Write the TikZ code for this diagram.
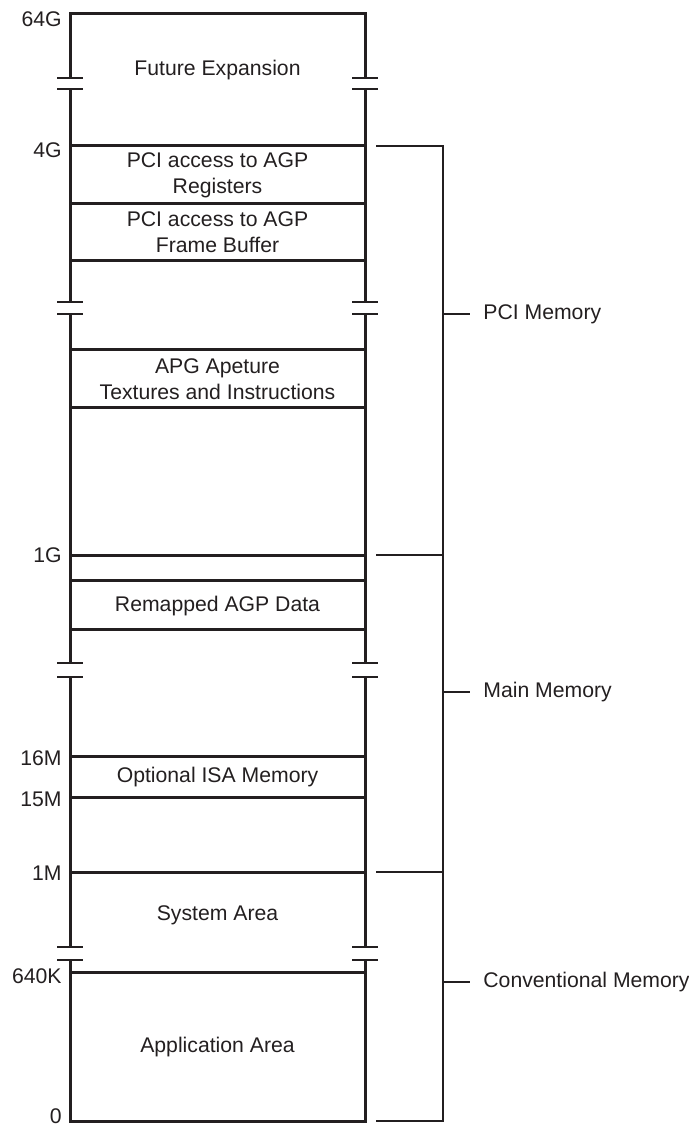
\documentclass[tikz,border=0pt]{standalone}
\usepackage{fontspec}
\setmainfont{Liberation Sans}
\definecolor{mapink}{RGB}{35,31,32}

\begin{document}
\begin{tikzpicture}[x=0.5pt,y=-0.5pt,
    wall/.style={line width=1.5pt,mapink},
    brk/.style={line width=0.9pt,mapink},
    brace/.style={line width=0.6pt,mapink},
    addr/.style={anchor=east,inner sep=0pt,text=mapink,font=\fontsize{10.6}{13}\selectfont},
    area/.style={align=center,inner sep=0pt,text=mapink,font=\fontsize{10.6}{13}\selectfont},
    grp/.style={anchor=west,inner sep=0pt,text=mapink,font=\fontsize{10.6}{13}\selectfont}]
  \useasboundingbox (0,0) rectangle (689,1127);
  % Outer walls of the memory map, broken at the gaps
  \foreach \x in {70,365} {
    \draw[wall] (\x,89) -- (\x,302);
    \draw[wall] (\x,314) -- (\x,663);
    \draw[wall] (\x,677) -- (\x,947);
  }
  \draw[wall] (70,78) -- (70,14) -- (365,14) -- (365,78);
  \draw[wall] (70,960) -- (70,1121) -- (365,1121) -- (365,960);
  % Break marks
  \foreach \x in {70,365}
    \foreach \y in {78,89,302,314,663,677,947,960}
      \draw[brk] (\x-13,\y) -- (\x+13,\y);
  % Region dividers
  \foreach \y in {146,204,261,350,408,555,580,629,756,797,872,972}
    \draw[wall] (70,\y) -- (365,\y);
  % Address labels
  \node[addr] (a64g) at (62,19) {64G};
  \node[addr] (a4g) at (62,150) {4G};
  \node[addr] (a1g) at (62,555) {1G};
  \node[addr] (a16m) at (62,758) {16M};
  \node[addr] (a15m) at (62,799) {15M};
  \node[addr] (a1m) at (62,873) {1M};
  \node[addr] (a640k) at (62,976) {640K};
  \node[addr] (a0) at (62,1116) {0};
  % Region texts
  \node[area] (future) at (217.5,70) {Future Expansion};
  \node[area] (agpreg) at (217.5,175) {PCI access to AGP\\Registers};
  \node[area] (agpfb) at (217.5,232) {PCI access to AGP\\Frame Buffer};
  \node[area] (aperture) at (217.5,379) {APG Apeture\\Textures and Instructions};
  \node[area] (remap) at (217.5,606) {Remapped AGP Data};
  \node[area] (isa) at (217.5,777) {Optional ISA Memory};
  \node[area] (sysarea) at (217.5,915) {System Area};
  \node[area] (apparea) at (217.5,1047) {Application Area};
  % Brackets on the right
  \draw[brace] (376,146) -- (443,146) -- (443,1121) -- (376,1121);
  \draw[brace] (443,555) -- (376,555);
  \draw[brace] (443,872) -- (376,872);
  \draw[brace] (443,314) -- (470,314);
  \draw[brace] (443,692) -- (470,692);
  \draw[brace] (443,982) -- (470,982);
  \node[grp] (pcimem) at (483,314) {PCI Memory};
  \node[grp] (mainmem) at (483,692) {Main Memory};
  \node[grp] (convmem) at (483,982) {Conventional Memory};
\end{tikzpicture}
\end{document}
